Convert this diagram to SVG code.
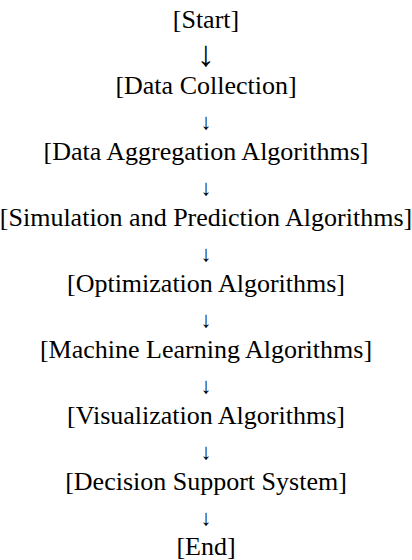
<svg xmlns="http://www.w3.org/2000/svg" width="412" height="560" viewBox="0 0 412 560">
<style>
.t{font-family:"Liberation Serif","Times New Roman",serif;font-size:26px;fill:#000;text-anchor:middle}
.a{font-family:"Liberation Serif","Times New Roman",serif;font-size:22px;fill:#000;text-anchor:middle}
.A{font-family:"Liberation Serif","Times New Roman",serif;font-size:36px;fill:#000;text-anchor:middle}
</style>
<rect width="412" height="560" fill="#fff"/>
<g id="connectors">
<text class="A" x="206" y="66">↓</text>
<text class="a" x="206" y="129">↓</text>
<text class="a" x="206" y="195">↓</text>
<text class="a" x="206" y="261">↓</text>
<text class="a" x="206" y="327">↓</text>
<text class="a" x="206" y="393">↓</text>
<text class="a" x="206" y="459">↓</text>
<text class="a" x="206" y="525">↓</text>
</g>
<g id="start"><text class="t" x="206" y="28">[Start]</text></g>
<g id="data-collection"><text class="t" x="206" y="94">[Data Collection]</text></g>
<g id="data-aggregation"><text class="t" x="206" y="160">[Data Aggregation Algorithms]</text></g>
<g id="simulation"><text class="t" x="206" y="226">[Simulation and Prediction Algorithms]</text></g>
<g id="optimization"><text class="t" x="206" y="292">[Optimization Algorithms]</text></g>
<g id="machine-learning"><text class="t" x="206" y="358">[Machine Learning Algorithms]</text></g>
<g id="visualization"><text class="t" x="206" y="424">[Visualization Algorithms]</text></g>
<g id="decision-support"><text class="t" x="206" y="490">[Decision Support System]</text></g>
<g id="end"><text class="t" x="206" y="555">[End]</text></g>
</svg>
